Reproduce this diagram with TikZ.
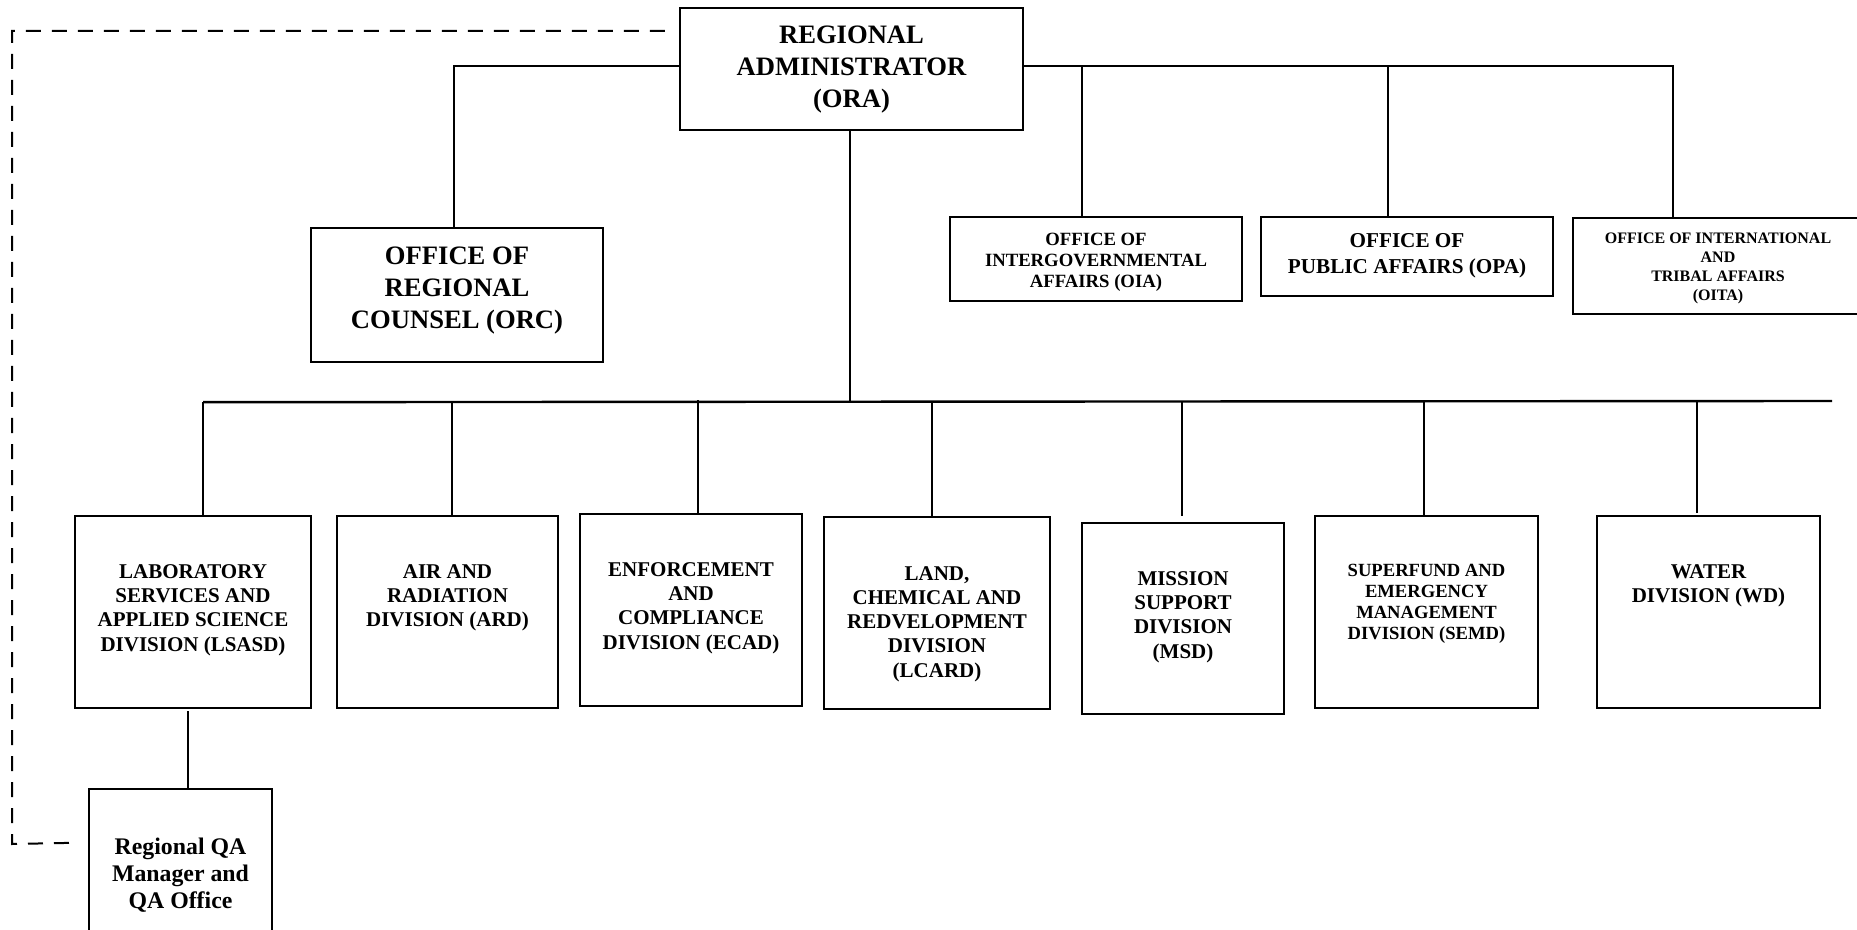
\documentclass[tikz,border=0pt]{standalone}
\usepackage{fontspec}
\setmainfont{Liberation Serif}
\usetikzlibrary{calc,fit}
\begin{document}
\begin{tikzpicture}[x=0.5pt,y=-0.5pt,
  box/.style={draw, line width=1.2pt, inner sep=0pt},
  conn/.style={line width=1pt},
  busline/.style={line width=1.2pt},
  dashline/.style={line width=1pt, dash pattern=on 7.5pt off 5.5pt},
  txt/.style={anchor=north, align=center, inner sep=0pt},
  fA/.style={font=\fontsize{13.3pt}{15.8pt}\selectfont\bfseries},
  fOIA/.style={font=\fontsize{9.35pt}{10.5pt}\selectfont\bfseries},
  fOPA/.style={font=\fontsize{10.6pt}{13pt}\selectfont\bfseries},
  fOITA/.style={font=\fontsize{8pt}{9.5pt}\selectfont\bfseries},
  fDiv/.style={font=\fontsize{10.5pt}{12.15pt}\selectfont\bfseries},
  fSEMD/.style={font=\fontsize{9.3pt}{10.5pt}\selectfont\bfseries},
  fQA/.style={font=\fontsize{11.9pt}{13.35pt}\selectfont\bfseries},
]
\useasboundingbox (0,0) rectangle (1857,930);
\clip (0,0) rectangle (1857,930);

% boxes
\node[box, fit={(680,8) (1023,130)}] (ora) {};
\node[box, fit={(311,228) (603,362)}] (orc) {};
\node[box, fit={(950,217) (1242,301)}] (oia) {};
\node[box, fit={(1261,217) (1553,296)}] (opa) {};
\node[box, fit={(1573,218) (1863,314)}] (oita) {};
\node[box, fit={(75,516) (311,708)}] (lsasd) {};
\node[box, fit={(337,516) (558,708)}] (ard) {};
\node[box, fit={(580,514) (802,706)}] (ecad) {};
\node[box, fit={(824,517) (1050,709)}] (lcard) {};
\node[box, fit={(1082,523) (1284,714)}] (msd) {};
\node[box, fit={(1315,516) (1538,708)}] (semd) {};
\node[box, fit={(1597,516) (1820,708)}] (wd) {};
\node[box, fit={(89,789) (272,960)}] (qa) {};

% texts
\node[txt, fA] (ora-t) at ($(ora.north)+(0,19)$) {REGIONAL\\ADMINISTRATOR\\(ORA)};
\node[txt, fA] (orc-t) at ($(orc.north)+(0,20)$) {OFFICE OF\\REGIONAL\\COUNSEL (ORC)};
\node[txt, fOIA] (oia-t) at ($(oia.north)+(0,17)$) {OFFICE OF\\INTERGOVERNMENTAL\\AFFAIRS (OIA)};
\node[txt, fOPA] (opa-t) at ($(opa.north)+(0,17)$) {OFFICE OF\\PUBLIC AFFAIRS (OPA)};
\node[txt, fOITA] (oita-t) at ($(oita.north)+(0,16)$) {OFFICE OF INTERNATIONAL\\AND\\TRIBAL AFFAIRS\\(OITA)};
\node[txt, fDiv] (lsasd-t) at ($(lsasd.north)+(0,49)$) {LABORATORY\\SERVICES AND\\APPLIED SCIENCE\\DIVISION (LSASD)};
\node[txt, fDiv] (ard-t) at ($(ard.north)+(0,49)$) {AIR AND\\RADIATION\\DIVISION (ARD)};
\node[txt, fDiv] (ecad-t) at ($(ecad.north)+(0,49)$) {ENFORCEMENT\\AND\\COMPLIANCE\\DIVISION (ECAD)};
\node[txt, fDiv] (lcard-t) at ($(lcard.north)+(0,50)$) {LAND,\\CHEMICAL AND\\REDVELOPMENT\\DIVISION\\(LCARD)};
\node[txt, fDiv] (msd-t) at ($(msd.north)+(0,49)$) {MISSION\\SUPPORT\\DIVISION\\(MSD)};
\node[txt, fSEMD] (semd-t) at ($(semd.north)+(0,49)$) {SUPERFUND AND\\EMERGENCY\\MANAGEMENT\\DIVISION (SEMD)};
\node[txt, fDiv] (wd-t) at ($(wd.north)+(0,49)$) {WATER\\DIVISION (WD)};
\node[txt, fQA] (qa-t) at ($(qa.north)+(0,50)$) {Regional QA\\Manager and\\QA Office};

% top connectors
\coordinate (tl) at ($(ora.west)+(0,-3)$);
\coordinate (tr) at ($(ora.east)+(0,-3)$);
\draw[conn] (tl) -| ($(orc.north)+(-3,0)$);
\coordinate (oiaj) at ($(oia.north)+(-14,0)$);
\coordinate (opaj) at ($(opa.north)+(-19,0)$);
\coordinate (oitaj) at ($(oita.north)+(-45,0)$);
\draw[conn] (tr) -| (oitaj);
\draw[conn] (oiaj) -- (oiaj |- tr);
\draw[conn] (opaj) -- (opaj |- tr);

% division bus
\coordinate (db) at ($(ora.south)+(-1.5,271)$);
\draw[conn] ($(ora.south)+(-1.5,0)$) -- (db);
\coordinate (lsasdj) at ($(lsasd.north)+(10,0)$);
\coordinate (ardj) at ($(ard.north)+(4.5,0)$);
\coordinate (ecadj) at ($(ecad.north)+(7,0)$);
\coordinate (lcardj) at ($(lcard.north)+(-5,0)$);
\coordinate (msdj) at ($(msd.north)+(-1,-6)$);
\coordinate (semdj) at ($(semd.north)+(-2.5,0)$);
\coordinate (wdj) at ($(wd.north)+(-11.5,-2)$);
\coordinate (busend) at (1832,401);
\draw[busline] (lsasdj |- db) -- (busend);
\foreach \j in {lsasdj,ardj,lcardj,msdj,semdj,wdj}
  \draw[conn] (\j) -- (\j |- db);
\draw[conn] (ecadj) -- ($(ecadj |- db)+(0,-2)$);

% LSASD to QA
\coordinate (qaj) at ($(qa.north)+(7.5,0)$);
\draw[conn] (qaj) -- ($(qaj |- lsasd.south)+(0,2)$);

% dashed reporting line
\coordinate (dl) at (12,844);
\draw[dashline] ($(ora.north west)+(-14,24)$) -| (dl) -- ($(qa.north west)+(-14,55)$);
\end{tikzpicture}
\end{document}
